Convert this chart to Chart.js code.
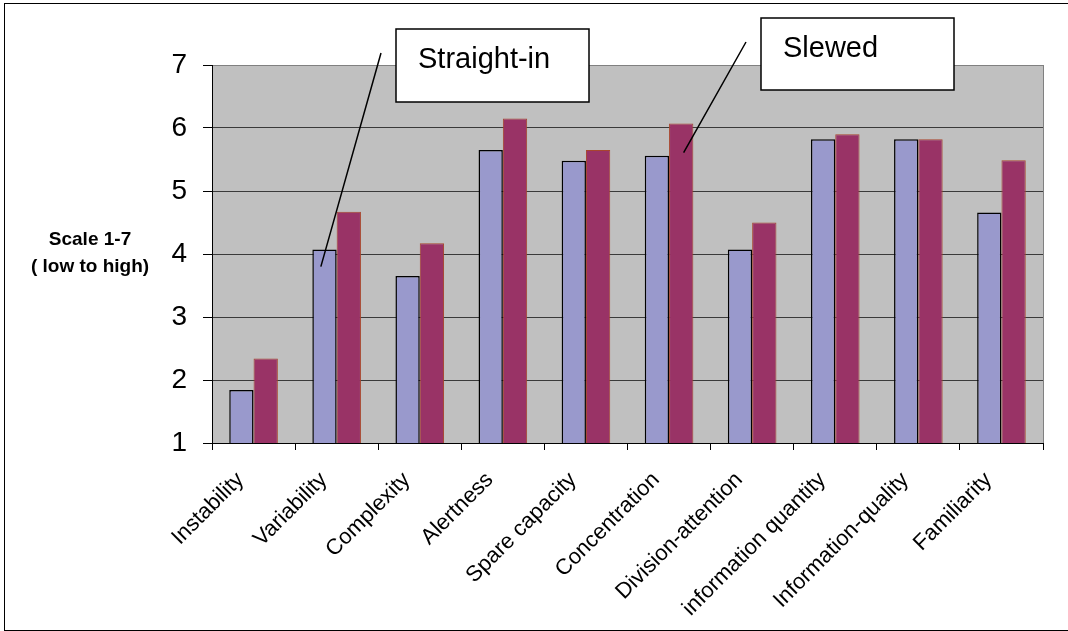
<!DOCTYPE html>
<html>
<head>
<meta charset="utf-8">
<script src="https://cdn.jsdelivr.net/npm/chart.js@4"></script>
<style>
  html, body { margin: 0; padding: 0; background: #fff; }
  #wrap { width: 1068px; height: 631px; position: relative; }
</style>
</head>
<body>
<div id="wrap"><canvas id="grafica"></canvas></div>
<script>
// datos
const categorias = ['Instability', 'Variability', 'Complexity', 'Alertness', 'Spare capacity',
    'Concentration', 'Division-attention', 'information quantity', 'Information-quality', 'Familiarity'];
const straightIn = [1.84, 4.07, 3.65, 5.65, 5.48, 5.56, 4.07, 5.82, 5.82, 4.66];
const slewed = [2.34, 4.67, 4.17, 6.15, 5.65, 6.07, 4.50, 5.90, 5.82, 5.49];
const ticksY = [1, 2, 3, 4, 5, 6, 7];
const tituloY = ['Scale 1-7', '( low to high)'];

const FUENTE = '"Liberation Sans", Arial, sans-serif';

// fondo gris, marco y notas
const decoracion = {
    id: 'decoracion',
    beforeDraw(chart) {
        const { ctx, chartArea: a } = chart;
        ctx.save();
        ctx.fillStyle = '#C0C0C0';
        ctx.fillRect(a.left, a.top, a.right - a.left, a.bottom - a.top);
        ctx.restore();
    },
    afterDraw(chart) {
        const { ctx, chartArea: a } = chart;
        const y = chart.scales.y;
        ctx.save();
        // borde derecho del area
        ctx.strokeStyle = '#808080';
        ctx.lineWidth = 1;
        ctx.beginPath();
        ctx.moveTo(a.right + 0.5, a.top);
        ctx.lineTo(a.right + 0.5, a.bottom);
        ctx.stroke();

        // titulo del eje Y
        ctx.fillStyle = '#000';
        ctx.font = 'bold 19px ' + FUENTE;
        ctx.textAlign = 'center';
        ctx.textBaseline = 'middle';
        ctx.fillText(tituloY[0], 90, 240);
        ctx.fillText(tituloY[1], 90, 267);

        // lineas guia hacia las barras
        const barA = chart.getDatasetMeta(0).data[1];
        const barB = chart.getDatasetMeta(1).data[5];
        ctx.strokeStyle = '#000';
        ctx.lineWidth = 1.5;
        ctx.beginPath();
        ctx.moveTo(381, 53);
        ctx.lineTo(barA.x - barA.width * 0.15, y.getPixelForValue(3.8));
        ctx.moveTo(746, 42);
        ctx.lineTo(barB.x + barB.width * 0.1, y.getPixelForValue(5.61));
        ctx.stroke();

        // cajas de texto
        ctx.font = '29px ' + FUENTE;
        ctx.textAlign = 'left';
        ctx.textBaseline = 'alphabetic';
        const cajas = [
            { t: 'Straight-in', x: 396, y: 29, w: 193, h: 73, tx: 418, ty: 68 },
            { t: 'Slewed', x: 761, y: 18, w: 193, h: 72, tx: 783, ty: 57 }
        ];
        cajas.forEach(c => {
            ctx.fillStyle = '#fff';
            ctx.fillRect(c.x, c.y, c.w, c.h);
            ctx.strokeStyle = '#000';
            ctx.lineWidth = 1.5;
            ctx.strokeRect(c.x, c.y, c.w, c.h);
            ctx.fillStyle = '#000';
            ctx.fillText(c.t, c.tx, c.ty);
        });

        // marco exterior
        ctx.lineWidth = 1;
        ctx.strokeStyle = '#000';
        ctx.strokeRect(4.5, 3.5, 1100, 627);
        ctx.restore();
    }
};

function crearGrafica() {
    const ctx = document.getElementById('grafica').getContext('2d');
    new Chart(ctx, {
        type: 'bar',
        data: {
            labels: categorias,
            datasets: [{
                label: 'Straight-in',
                data: straightIn,
                backgroundColor: '#9999CC',
                borderColor: '#000000',
                borderWidth: 1.5
            }, {
                label: 'Slewed',
                data: slewed,
                backgroundColor: '#993366',
                borderColor: '#A8452E',
                borderWidth: 1
            }]
        },
        options: {
            responsive: true,
            maintainAspectRatio: false,
            animation: false,
            categoryPercentage: 0.585,
            barPercentage: 1.0,
            layout: { padding: { left: 0, top: 65, right: 25, bottom: 0 } },
            plugins: {
                legend: { display: false },
                tooltip: { enabled: false }
            },
            scales: {
                x: {
                    grid: {
                        drawOnChartArea: false,
                        drawTicks: true,
                        tickLength: 7,
                        tickColor: '#000'
                    },
                    border: { color: '#000', width: 1 },
                    ticks: {
                        autoSkip: false,
                        minRotation: 45,
                        maxRotation: 45,
                        padding: 17,
                        labelOffset: -13,
                        color: '#000',
                        font: { family: FUENTE, size: 22 }
                    },
                    afterFit(scale) { scale.height = 188; scale.paddingLeft = 0; scale.paddingRight = 0; }
                },
                y: {
                    min: 1,
                    max: 7,
                    grid: {
                        color: ctx => ctx.tick && ctx.tick.value === 7 ? '#808080' : '#3a3a3a',
                        lineWidth: 1,
                        tickLength: 9,
                        tickColor: '#000'
                    },
                    border: { color: '#000', width: 1 },
                    afterBuildTicks(scale) { scale.ticks = ticksY.map(v => ({ value: v })); },
                    ticks: {
                        padding: 16,
                        color: '#000',
                        font: { family: FUENTE, size: 28 }
                    },
                    afterFit(scale) { scale.width = 212; scale.paddingTop = 0; scale.paddingBottom = 0; }
                }
            }
        },
        plugins: [decoracion]
    });
}

document.addEventListener('DOMContentLoaded', crearGrafica);
</script>
</body>
</html>
